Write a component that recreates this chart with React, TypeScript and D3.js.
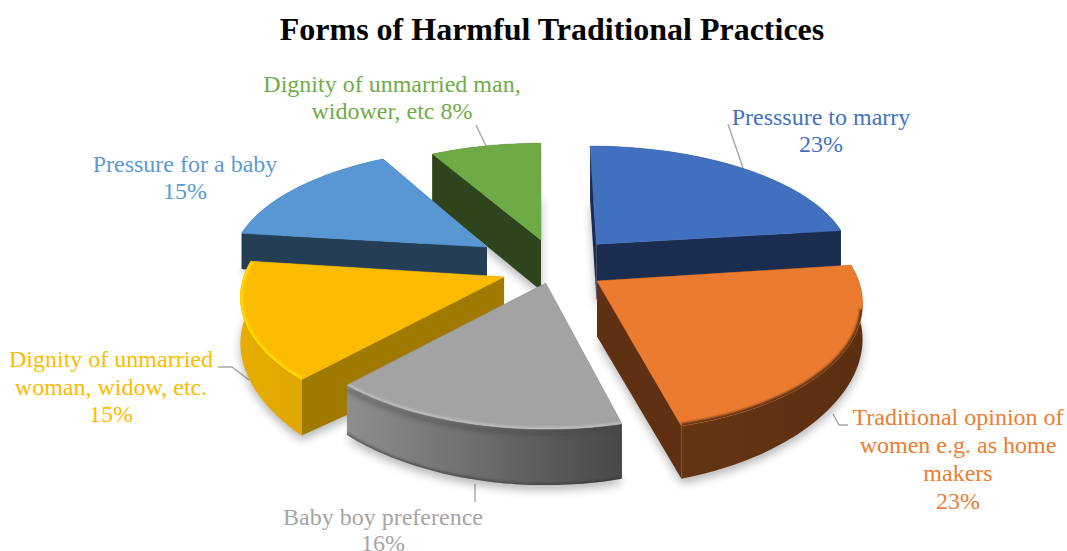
import React from "react";
import * as d3 from "d3";

// Shares of each practice, clockwise from twelve o'clock
const categories = [
  "Presssure to marry",
  "Traditional opinion of women",
  "Baby boy preference",
  "Dignity of unmarried woman",
  "Pressure for a baby",
  "Dignity of unmarried man",
];
const values = [23, 23, 16, 15, 15, 8];

const labelLines = [
  ["Presssure to marry", "23%"],
  ["Traditional opinion of", "women e.g. as home", "makers", "23%"],
  ["Baby boy preference", "16%"],
  ["Dignity of unmarried", "woman, widow, etc.", "15%"],
  ["Pressure for a baby", "15%"],
  ["Dignity of unmarried man,", "widower, etc 8%"],
];

// Label anchors: centre x, first baseline, line step
const labelPlace = [
  [821, 125, 27],
  [958, 425, 28],
  [383, 525, 25.5],
  [111, 367, 27.5],
  [185, 172, 27],
  [392, 92, 27],
];
const labelColors = ["#4472c4", "#ed7d31", "#a5a5a5", "#fbbc00", "#5b9bd5", "#70ad47"];
const leaders = [
  [[728, 124], [743, 168]],
  [[848, 425], [839, 425], [833, 414]],
  [[475, 484], [475, 502]],
  [[218, 367], [232, 367], [249, 380]],
  [],
  [[476, 125], [487, 148]],
];

// Surface colours of the extruded wedges
const topColors = ["#4170bf", "#ea7b2f", "#a3a3a3", "#fbbc00", "#5897d3", "#6eaa46"];
const cutColors = ["#1a2c50", "#5f3012", "#6a6a6a", "#a07a00", "#243e55", "#2d441c"];
const wallStops = [
  ["#1a2c50", "#1a2c50"],
  ["#653513", "#5c2f12"],
  ["#8e8e8e", "#484848"],
  ["#e6ac00", "#e0a800"],
  ["#243e55", "#243e55"],
  ["#2d441c", "#2d441c"],
];
const rimColors = ["none", "#5f3012", "#bebebe", "#ffd900", "none", "none"];
// Where along the rim (of 60 steps) the bevel shading begins
const rimFrom = [0, 14, 0, 0, 0, 0];

// Explosion of each wedge on the ground plane, in radius units
const offsets = [
  [0.225, -0.18],
  [0.218, 0.133],
  [0.022, 0.15],
  [-0.138, 0.099],
  [-0.211, -0.155],
  [0.004, -0.217],
];
// Per-wedge foreshortening and wall height
const squash = [0.975, 1.05, 1.02, 1.04, 0.98, 0.97];
const heightScale = [1, 1, 1, 1.2, 1, 0.9];
const drawOrder = [5, 4, 0, 3, 1, 2];

const CX = 540;
const CY = 265;
const RX = 257;
const RY = 118.6;
const P = 0.132;

type Pt = [number, number];

// Perspective projection of a ground-plane point; z is the drop below the top face
function project(X: number, Y: number, z: number): Pt {
  const s = 1 / (1 - P * Y);
  const depth = 56 - 14 * X * X;
  return [CX + RX * X * s, CY + RY * Y * s + z * depth];
}

const line = d3.line<Pt>();

function wedgeGeometry(i: number, a0: number, a1: number) {
  const [ex, ey] = offsets[i];
  const rimAngles = d3.range(0, 61).map((k) => a0 + ((a1 - a0) * k) / 60);
  const world = (a: number): Pt => [ex + Math.sin(a), ey - squash[i] * Math.cos(a)];
  const rim = rimAngles.map(world);
  const h = heightScale[i];
  const rimTop = rim.map(([X, Y]) => project(X, Y, 0));
  const rimBottom = rim.map(([X, Y]) => project(X, Y, h));
  const apexTop = project(ex, ey, 0);
  const apexBottom = project(ex, ey, h);
  return { rimTop, rimBottom, apexTop, apexBottom };
}

export default function App() {
  const arcs = d3
    .pie<number>()
    .sort(null)
    .startAngle(0)
    .endAngle(2 * Math.PI)(values);

  const geo = arcs.map((a, i) => wedgeGeometry(i, a.startAngle, a.endAngle));

  return (
    <svg
      width={1067}
      height={551}
      viewBox="0 0 1067 551"
      style={{ position: "fixed", left: 0, top: 0, display: "block", background: "#fff" }}
    >
      <defs>
        <filter id="soft" x="-20%" y="-20%" width="140%" height="140%">
          <feGaussianBlur stdDeviation="5" />
        </filter>
        <filter id="rimBlur" x="-10%" y="-10%" width="120%" height="120%">
          <feGaussianBlur stdDeviation="1.3" />
        </filter>
        <filter id="bandBlur" x="-10%" y="-20%" width="120%" height="140%">
          <feGaussianBlur stdDeviation="2.2" />
        </filter>
        {geo.map((g, i) => {
          const xs = g.rimTop.map((p) => p[0]);
          return (
            <linearGradient
              key={i}
              id={`wall${i}`}
              gradientUnits="userSpaceOnUse"
              x1={d3.min(xs)}
              x2={d3.max(xs)}
              y1={0}
              y2={0}
            >
              <stop offset="0" stopColor={wallStops[i][0]} />
              <stop offset="1" stopColor={wallStops[i][1]} />
            </linearGradient>
          );
        })}
        {geo.map((g, i) => (
          <clipPath key={i} id={`top${i}`}>
            <path d={line([g.apexTop, ...g.rimTop])! + "Z"} />
          </clipPath>
        ))}
        {geo.map((g, i) => (
          <clipPath key={i} id={`side${i}`}>
            <path d={line([...g.rimTop, ...[...g.rimBottom].reverse()])! + "Z"} />
          </clipPath>
        ))}
      </defs>

      <text
        x={552}
        y={40}
        textAnchor="middle"
        fontFamily="'Liberation Serif', serif"
        fontWeight="bold"
        fontSize={32}
        fill="#000"
      >
        Forms of Harmful Traditional Practices
      </text>

      {leaders.map((pts, i) =>
        pts.length ? (
          <path key={i} d={line(pts as Pt[])!} fill="none" stroke="#a6a6a6" strokeWidth={1.4} />
        ) : null
      )}

      {drawOrder.map((i) => {
        const g = geo[i];
        const first = g.rimTop[0];
        const last = g.rimTop[g.rimTop.length - 1];
        const firstB = g.rimBottom[0];
        const lastB = g.rimBottom[g.rimBottom.length - 1];
        const footprint = [g.apexBottom, ...g.rimBottom];
        const wall = [...g.rimTop, ...[...g.rimBottom].reverse()];
        const rimPath = line(g.rimTop.slice(rimFrom[i]))!;
        return (
          <g key={categories[i]}>
            <path
              d={line(footprint)! + "Z"}
              transform="translate(0,5)"
              fill="#000"
              opacity={0.28}
              filter="url(#soft)"
            />
            <path d={line([g.apexTop, first, firstB, g.apexBottom])! + "Z"} fill={cutColors[i]} />
            <path d={line([g.apexTop, last, lastB, g.apexBottom])! + "Z"} fill={cutColors[i]} />
            <path d={line(wall)! + "Z"} fill={`url(#wall${i})`} />
            {i === 2 ? (
              <g clipPath={`url(#side${i})`}>
                <path
                  d={line(g.rimTop)!}
                  transform="translate(0,4)"
                  fill="none"
                  stroke="#3e3e3e"
                  strokeOpacity={0.4}
                  strokeWidth={5}
                  filter="url(#bandBlur)"
                />
                <path
                  d={line(g.rimBottom)!}
                  fill="none"
                  stroke="#303030"
                  strokeOpacity={0.5}
                  strokeWidth={4}
                  filter="url(#rimBlur)"
                />
              </g>
            ) : null}
            <path
              d={line([g.apexTop, ...g.rimTop])! + "Z"}
              fill={topColors[i]}
              stroke={topColors[i]}
              strokeWidth={0.6}
              strokeLinejoin="round"
            />
            {rimColors[i] !== "none" ? (
              <g clipPath={`url(#top${i})`}>
                <path
                  d={rimPath}
                  fill="none"
                  stroke={rimColors[i]}
                  strokeWidth={i === 2 ? 4 : 5}
                  filter="url(#rimBlur)"
                />
              </g>
            ) : null}
          </g>
        );
      })}

      {labelLines.map((lines, i) => (
        <text
          key={i}
          textAnchor="middle"
          fontFamily="'Liberation Serif', serif"
          fontSize={24}
          fill={labelColors[i]}
        >
          {lines.map((t, k) => (
            <tspan key={k} x={labelPlace[i][0]} y={labelPlace[i][1] + k * labelPlace[i][2]}>
              {t}
            </tspan>
          ))}
        </text>
      ))}
    </svg>
  );
}
